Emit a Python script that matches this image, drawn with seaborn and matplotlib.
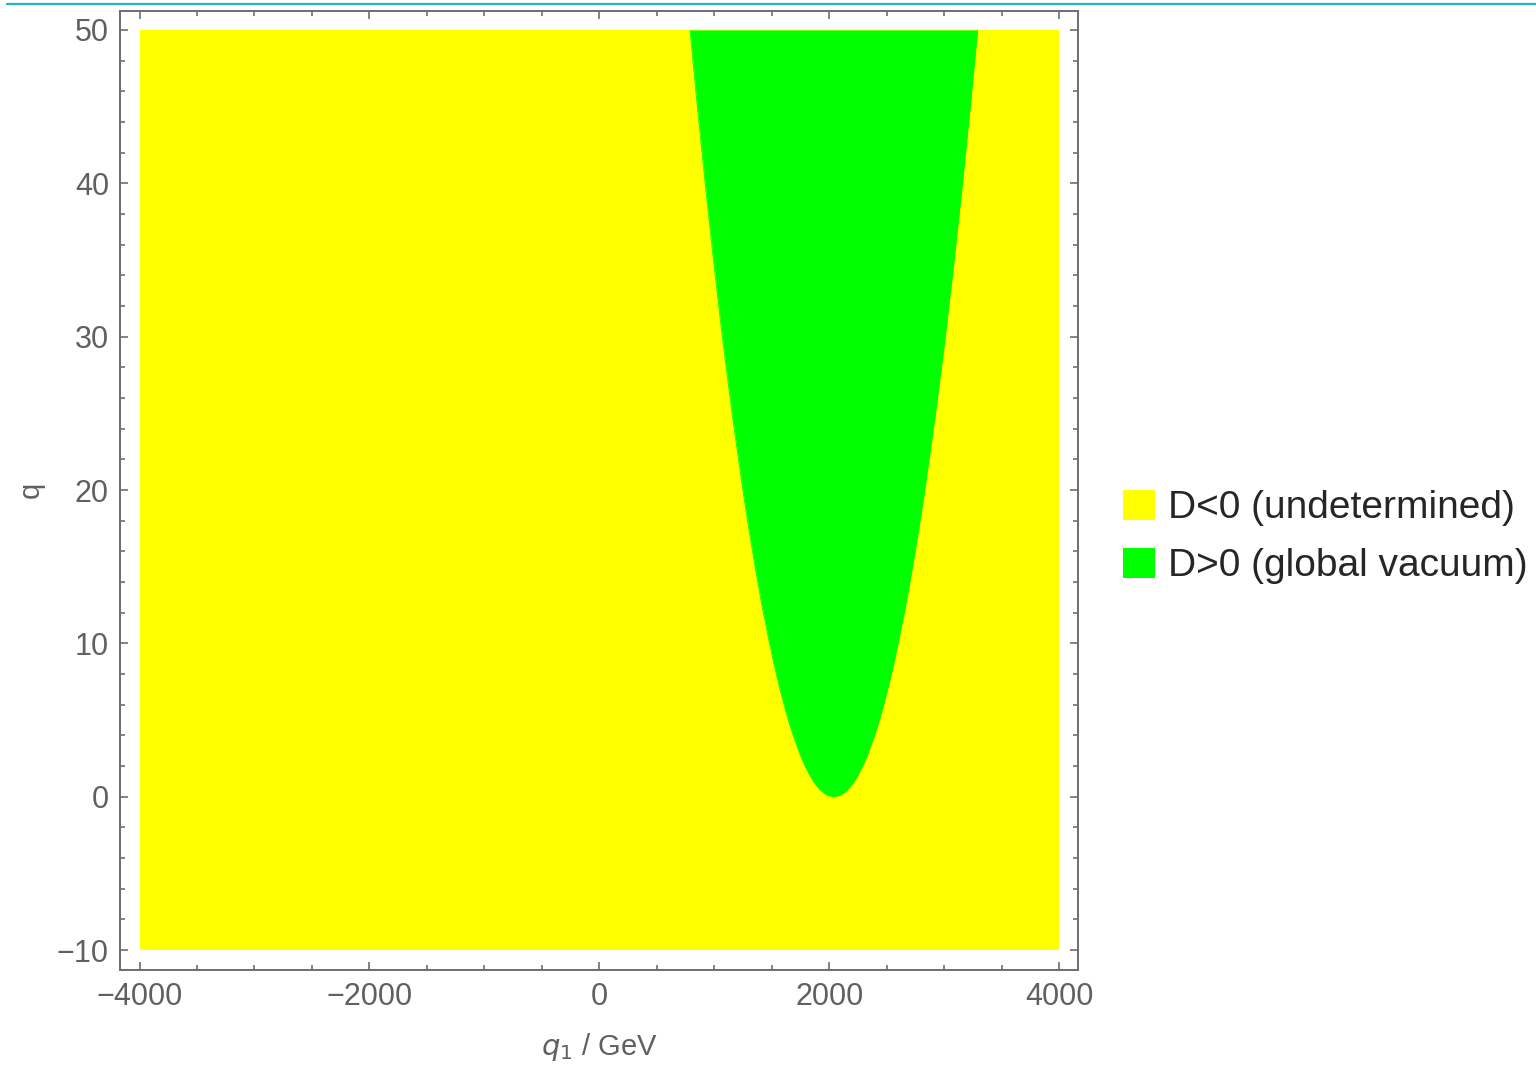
import numpy as np
import pandas as pd
import seaborn as sns
import matplotlib
matplotlib.use("Agg")
import matplotlib.pyplot as plt
from matplotlib.patches import Patch
from matplotlib.lines import Line2D
from matplotlib.ticker import MultipleLocator

# ---- data ----
q1_range = [-4000, 4000]          # plotted q1 range (GeV)
q_range = [-10, 50]               # plotted q range
# boundary of the D>0 region: for each q, left and right q1 edges
q_levels = [0, 0.1, 0.25, 0.5, 0.75, 1, 1.5, 2, 2.5, 3, 4, 5, 6, 7, 8.5, 10,
            12.5, 15, 17.5, 20, 25, 30, 35, 40, 45, 50]
q1_left = [2040, 1984, 1952, 1915, 1887, 1863, 1823, 1790, 1760, 1734, 1686, 1644, 1607, 1572,
           1524, 1481, 1414, 1355, 1300, 1249, 1155, 1070, 993, 921, 853, 789]
q1_right = [2040, 2096, 2128, 2165, 2193, 2217, 2257, 2290, 2320, 2346, 2394, 2436, 2473, 2508,
            2556, 2599, 2666, 2725, 2780, 2831, 2925, 3010, 3087, 3159, 3227, 3291]
labels = ["D<0 (undetermined)", "D>0 (global vacuum)"]
colors = ["#FFFF00", "#00FF00"]
x_ticks = [-4000, -2000, 0, 2000, 4000]
y_ticks = [-10, 0, 10, 20, 30, 40, 50]

sns.set_theme(style="white")
plt.rcParams['font.family'] = ['Liberation Sans', 'DejaVu Sans']

fig = plt.figure(figsize=(15.36, 10.66), dpi=100)
ax = fig.add_axes([120 / 1536, 1 - 969.5 / 1066, 958 / 1536, 959 / 1066])

# yellow region (whole domain)
ax.fill_between(q1_range, q_range[0], q_range[1], color=colors[0], linewidth=0, zorder=1)
# green region
ax.fill_betweenx(q_levels, q1_left, q1_right, color=colors[1], linewidth=0, zorder=2)
bdf = pd.DataFrame({"q1": q1_left[::-1] + q1_right[1:], "q": q_levels[::-1] + q_levels[1:]})
sns.lineplot(data=bdf, x="q1", y="q", sort=False, color=colors[1], linewidth=0.6, ax=ax, zorder=3)

ax.set_xlim(-4170, 4165)
ax.set_ylim(-11.27, 51.27)
ax.set_xticks(x_ticks)
ax.set_yticks(y_ticks)
ax.xaxis.set_minor_locator(MultipleLocator(500))
ax.yaxis.set_minor_locator(MultipleLocator(2))

frame_col = "#6e6e6e"
label_col = "#606060"
for s in ax.spines.values():
    s.set_visible(True)
    s.set_color(frame_col)
    s.set_linewidth(1.4)
ax.tick_params(which="both", direction="in", top=True, right=True, bottom=True, left=True,
               color=frame_col, width=1.2, labelcolor=label_col, labelsize=22)
ax.tick_params(which="major", length=6, pad=8)
ax.tick_params(which="minor", length=3.6)
ax.tick_params(axis="x", which="major", pad=9)

ax.set_xlabel(r"$q_1$ / GeV", fontsize=21, color=label_col, labelpad=14)
ax.set_ylabel("q", fontsize=21, color=label_col, labelpad=9)

handles = [Patch(facecolor=c, edgecolor="none") for c in colors]
fig.legend(handles, labels, loc="center left", bbox_to_anchor=(1123 / 1536, 1 - 537 / 1066),
           frameon=False, fontsize=28, handlelength=0.82, handleheight=0.82,
           handletextpad=0.33, labelspacing=0.55, borderpad=0, borderaxespad=0)

# thin cyan line across the top of the image
fig.add_artist(Line2D([7 / 1536, 1.0], [1 - 4 / 1066, 1 - 4 / 1066], color="#1fb3c4",
                      linewidth=1.6, transform=fig.transFigure))

fig.savefig("out.png", dpi=100)
